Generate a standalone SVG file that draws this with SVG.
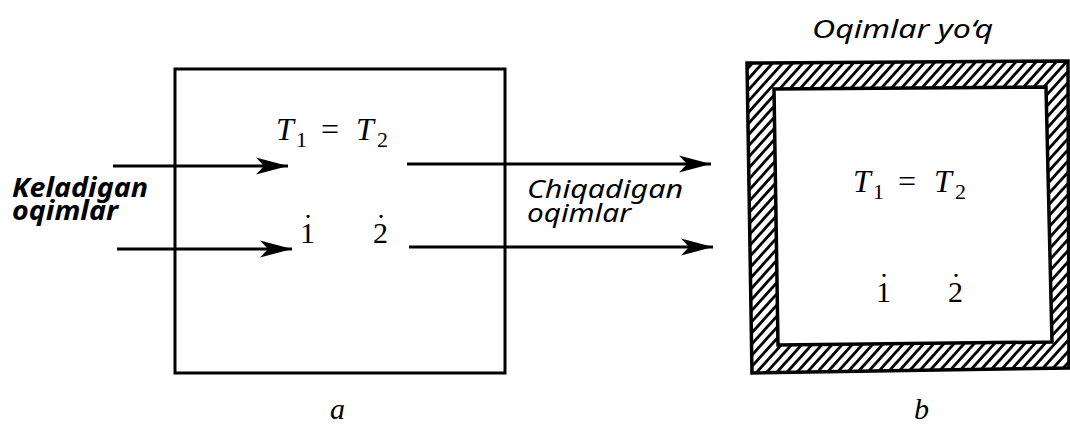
<svg xmlns="http://www.w3.org/2000/svg" width="1070" height="427" viewBox="0 0 1070 427">
<style>
.lbl{font-family:"Noto Sans","Open Sans",sans-serif;font-style:italic;font-size:26px;fill:#000}
.b{font-weight:700}
.m{font-family:"Liberation Serif","DejaVu Serif",serif;font-size:32px;fill:#000}
.d{font-family:"Liberation Serif","DejaVu Serif",serif;font-size:30px;fill:#000}
.it{font-style:italic}
.sub{font-size:22px}
.ln{stroke:#000;stroke-width:3;fill:none}
</style>
<defs>
<marker id="ah" markerUnits="userSpaceOnUse" markerWidth="36" markerHeight="20" refX="34" refY="10" orient="auto">
<path d="M34,10 L2,1.5 L10,10 L2,18.5 Z" fill="#000"/>
</marker>
<pattern id="hatch" width="7.5" height="7.5" patternUnits="userSpaceOnUse" patternTransform="rotate(42)">
<rect width="7.5" height="7.5" fill="#fff"/>
<line x1="1.4" y1="0" x2="1.4" y2="7.5" stroke="#000" stroke-width="2.8"/>
</pattern>
</defs>

<g id="system-a">
<rect x="175" y="69" width="330" height="304" class="ln"/>
<text class="m" y="140"><tspan class="it" x="276">T</tspan><tspan class="sub" x="296" y="147">1</tspan><tspan x="321" y="140">=</tspan><tspan class="it" x="356">T</tspan><tspan class="sub" x="377" y="147">2</tspan></text>
<text class="d" x="300" y="243">1<tspan dx="-12" dy="-8">˙</tspan></text>
<text class="d" x="373" y="243">2<tspan dx="-12" dy="-8">˙</tspan></text>
<text class="d it" x="330" y="419">a</text>
</g>

<g id="label-in">
<text class="lbl b" x="12" y="197" textLength="136" lengthAdjust="spacingAndGlyphs">Keladigan</text>
<text class="lbl b" x="12" y="220" textLength="106" lengthAdjust="spacingAndGlyphs">oqimlar</text>
</g>

<g id="label-out">
<text class="lbl" x="527" y="198" textLength="156" lengthAdjust="spacingAndGlyphs">Chiqadigan</text>
<text class="lbl" x="527" y="222" textLength="104" lengthAdjust="spacingAndGlyphs">oqimlar</text>
</g>

<g id="connectors">
<line x1="113" y1="166" x2="288" y2="166" class="ln" marker-end="url(#ah)"/>
<line x1="117" y1="249" x2="292" y2="249" class="ln" marker-end="url(#ah)"/>
<line x1="407" y1="164" x2="711" y2="164" class="ln" marker-end="url(#ah)"/>
<line x1="409" y1="247" x2="713" y2="247" class="ln" marker-end="url(#ah)"/>
</g>

<g id="system-b">
<path d="M747,63 L1068,61 L1069,368 L752,373 Z M774,89 L778,345 L1052,342 L1046,87 Z" fill="url(#hatch)" fill-rule="evenodd" stroke="#000" stroke-width="3.5" stroke-linejoin="miter"/>
<text class="lbl" x="812" y="38" font-size="27" textLength="181" lengthAdjust="spacingAndGlyphs">Oqimlar yo‘q</text>
<text class="m" y="192"><tspan class="it" x="853">T</tspan><tspan class="sub" x="873" y="199">1</tspan><tspan x="898" y="192">=</tspan><tspan class="it" x="934">T</tspan><tspan class="sub" x="955" y="199">2</tspan></text>
<text class="d" x="876" y="302">1<tspan dx="-12" dy="-8">˙</tspan></text>
<text class="d" x="948" y="302">2<tspan dx="-12" dy="-8">˙</tspan></text>
<text class="d it" x="914" y="419">b</text>
</g>
</svg>
